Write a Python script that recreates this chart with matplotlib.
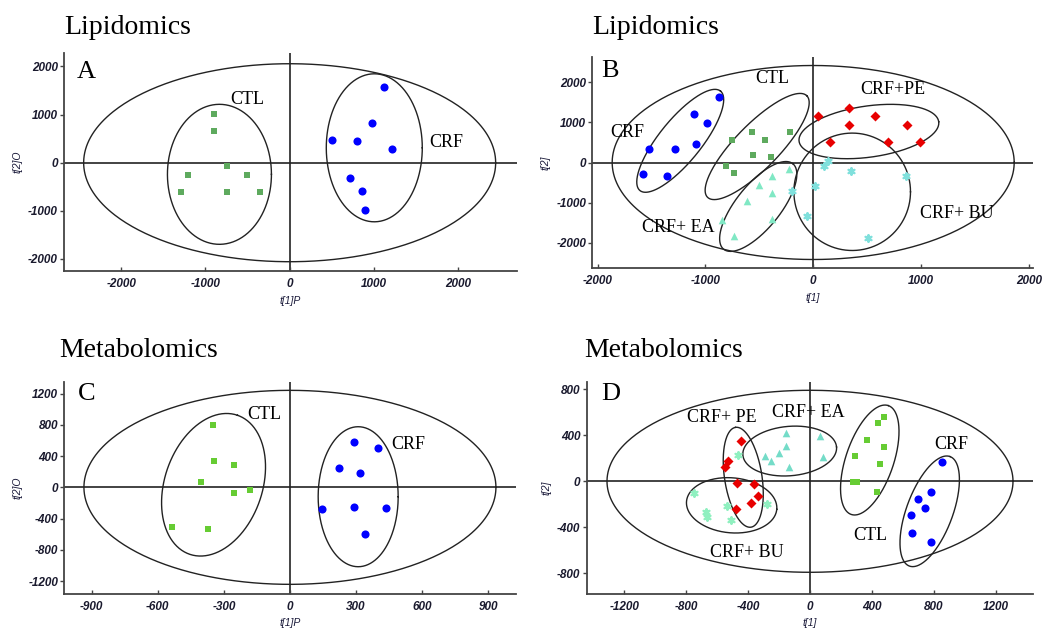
import numpy as np
import matplotlib
matplotlib.use("Agg")
import matplotlib.pyplot as plt

plt.rcParams['axes.unicode_minus'] = False

# ---------------- data ----------------
# Panel A (Lipidomics, OPLS: t[1]P vs t[2]O)
a_ctl_x = [-898, -898, -748, -1211, -510, -1294, -748, -356]
a_ctl_y = [1019, 659, -69, -249, -249, -616, -616, -616]
a_crf_x = [1116, 973, 502, 799, 1211, 716, 855, 895]
a_crf_y = [1567, 832, 472, 445, 291, -324, -588, -977]

# Panel B (Lipidomics, PCA: t[1] vs t[2])
b_crf_x = [-872, -1110, -987, -1092, -1522, -1287, -1581, -1361]
b_crf_y = [1630, 1206, 982, 458, 341, 341, -290, -340]
b_ctl_x = [-572, -213, -752, -451, -557, -390, -810, -733]
b_ctl_y = [773, 773, 566, 566, 185, 135, -75, -257]
b_pe_x = [41, 334, 575, 334, 872, 158, 690, 990]
b_pe_y = [1157, 1372, 1157, 940, 940, 509, 509, 509]
b_ea_x = [-223, -381, -501, -381, -618, -850, -381, -733]
b_ea_y = [-157, -340, -556, -763, -963, -1429, -1404, -1845]
b_bu_x = [139, 96, 350, 860, 13, -200, -56, 510]
b_bu_y = [42, -75, -207, -340, -598, -706, -1347, -1878]

# Panel C (Metabolomics, OPLS)
c_ctl_x = [-351, -347, -253, -405, -253, -182, -535, -373]
c_ctl_y = [794, 333, 286, 64, -69, -35, -508, -530]
c_crf_x = [291, 402, 224, 320, 144, 291, 438, 342]
c_crf_y = [576, 503, 251, 183, -282, -248, -261, -594]

# Panel D (Metabolomics, PCA)
d_crf_x = [853, 784, 698, 741, 655, 661, 784]
d_crf_y = [165, -96, -154, -229, -296, -450, -528]
d_ctl_x = [480, 437, 368, 480, 289, 454, 280, 301, 431]
d_ctl_y = [557, 507, 359, 298, 217, 148, -9, -9, -93]
d_ea_x = [-157, 65, -157, -200, -293, 84, -250, -138]
d_ea_y = [417, 397, 307, 243, 220, 214, 174, 124]
d_pe_x = [-446, -532, -547, -472, -360, -338, -383, -478]
d_pe_y = [350, 177, 127, -17, -23, -125, -189, -241]
d_bu_x = [-463, -747, -538, -276, -674, -663, -508]
d_bu_y = [231, -102, -212, -197, -267, -313, -337]

# axis settings
a_xticks = [-2000, -1000, 0, 1000, 2000]
a_yticks = [-2000, -1000, 0, 1000, 2000]
b_xticks = [-2000, -1000, 0, 1000, 2000]
b_yticks = [-2000, -1000, 0, 1000, 2000]
c_xticks = [-900, -600, -300, 0, 300, 600, 900]
c_yticks = [-1200, -800, -400, 0, 400, 800, 1200]
d_xticks = [-1200, -800, -400, 0, 400, 800, 1200]
d_yticks = [-800, -400, 0, 400, 800]

# ---------------- style ----------------
BLUE = '#0000ff'
RED = '#e80000'
GREEN1 = '#5eaa5e'
GREEN2 = '#66cc33'
EA1 = '#80e8c4'
BU1 = '#80e0dc'
EA2 = '#74dcc8'
BU2 = '#90f0c0'
SERIF = ['Liberation Serif', 'DejaVu Serif']
SANS = ['Liberation Sans', 'DejaVu Sans']

fig = plt.figure(figsize=(10.56, 6.29), dpi=100)
W, H = 1056, 629


def make_axes(left, right, top, bottom):
    return fig.add_axes([left / W, 1 - bottom / H, (right - left) / W, (bottom - top) / H])


def style(ax, xlim, ylim, xt, yt, xl, yl):
    ax.set_xlim(*xlim)
    ax.set_ylim(*ylim)
    ax.set_xticks(xt)
    ax.set_yticks(yt)
    for s in ['top', 'right']:
        ax.spines[s].set_visible(False)
    for s in ['left', 'bottom']:
        ax.spines[s].set_color('#444444')
        ax.spines[s].set_linewidth(1.3)
    ax.tick_params(axis='y', direction='out', length=3, width=1, color='#444444', pad=1.5)
    ax.tick_params(axis='x', direction='in', length=3, width=1, color='#444444', pad=5)
    for lab in ax.get_xticklabels() + ax.get_yticklabels():
        lab.set_fontfamily(SANS)
        lab.set_fontweight('bold')
        lab.set_fontstyle('italic')
        lab.set_fontsize(8.5)
        lab.set_color('#1a1a2e')
    ax.set_xlabel(xl, fontsize=7.5, fontstyle='italic', family=SANS, color='#1a1a3a', labelpad=4)
    ax.set_ylabel(yl, fontsize=7.5, fontstyle='italic', family=SANS, color='#1a1a3a', labelpad=4)
    ax.axhline(0, color='#222222', lw=1.2, zorder=1)
    ax.axvline(0, color='#222222', lw=1.2, zorder=1)
    ax.patch.set_alpha(0)


def ellipse(ax, cx, cy, a, b, ang):
    x0, x1 = ax.get_xlim()
    y0, y1 = ax.get_ylim()
    pos = ax.get_position()
    wpx = pos.width * fig.get_figwidth() * fig.dpi
    hpx = pos.height * fig.get_figheight() * fig.dpi
    sx = (x1 - x0) / wpx
    sy = (y1 - y0) / hpx
    t = np.linspace(0, 2 * np.pi, 400)
    th = np.radians(ang)
    u = a * np.cos(t)
    v = b * np.sin(t)
    dx = u * np.cos(th) - v * np.sin(th)
    dy = u * np.sin(th) + v * np.cos(th)
    ax.plot(cx + dx * sx, cy + dy * sy, color='#222222', lw=1.0, zorder=2)


def label(ax, x, y, s, size=13, ha='center', va='center'):
    ax.text(x, y, s, fontsize=size, family=SERIF, ha=ha, va=va, color='black', zorder=5)


def pts(ax, x, y, color, marker, s, lw=0):
    ax.scatter(x, y, c=color, marker=marker, s=s, linewidths=lw, edgecolors=color, zorder=4)


# ---------------- Panel A ----------------
axA = make_axes(64, 517, 53, 271)
style(axA, (-2680, 2700), (-2250, 2280), a_xticks, a_yticks, 't[1]P', 't[2]O')
ellipse(axA, 0, 0, 206, 99, 0)
ellipse(axA, -834, -241, 52, 70, 0)
ellipse(axA, 1005, 310, 48, 74, 0)
pts(axA, a_ctl_x, a_ctl_y, GREEN1, 's', 22)
pts(axA, a_crf_x, a_crf_y, BLUE, 'o', 34)
label(axA, -2532, 1755, 'A', size=19, ha='left', va='baseline')
label(axA, -499, 1324, 'CTL')
label(axA, 1864, 410, 'CRF')

# ---------------- Panel B ----------------
axB = make_axes(592.3, 1033, 56.7, 268.3)
style(axB, (-2050, 2040), (-2640, 2640), b_xticks, b_yticks, 't[1]', 't[2]')
ellipse(axB, 0, 0, 201, 97, 0)
ellipse(axB, -1234, 541, 64, 21, 51)
ellipse(axB, -520, 399, 71, 22, 45.7)
ellipse(axB, -510, -1097, 55, 22, 51)
ellipse(axB, 517, 773, 70.5, 25.6, 8)
ellipse(axB, 362, -731, 58.3, 58.7, 0)
pts(axB, b_crf_x, b_crf_y, BLUE, 'o', 34)
pts(axB, b_ctl_x, b_ctl_y, GREEN1, 's', 22)
pts(axB, b_pe_x, b_pe_y, RED, 'D', 26)
pts(axB, b_ea_x, b_ea_y, EA1, '^', 30)
pts(axB, b_bu_x, b_bu_y, BU1, (6, 2, 0), 22, lw=1.6)
label(axB, -1964, 2130, 'B', size=19, ha='left', va='baseline')
label(axB, -377, 2105, 'CTL')
label(axB, 742, 1830, 'CRF+PE')
label(axB, -1726, 758, 'CRF')
label(axB, -1253, -1621, 'CRF+ EA')
label(axB, 1331, -1262, 'CRF+ BU')

# ---------------- Panel C ----------------
axC = make_axes(64.3, 516, 381.7, 594)
style(axC, (-1025, 1027), (-1365, 1352), c_xticks, c_yticks, 't[1]P', 't[2]O')
ellipse(axC, 0, 0, 206, 97, 0)
ellipse(axC, -347, 33, 73.5, 48.8, 71)
ellipse(axC, 310, -120, 40, 70, 0)
pts(axC, c_ctl_x, c_ctl_y, GREEN2, 's', 22)
pts(axC, c_crf_x, c_crf_y, BLUE, 'o', 34)
label(axC, -962, 1118, 'C', size=19, ha='left', va='baseline')
label(axC, -117, 926, 'CTL')
label(axC, 538, 554, 'CRF')

# ---------------- Panel D ----------------
axD = make_axes(586.7, 1033.3, 381.7, 594)
style(axD, (-1442, 1442), (-980, 866), d_xticks, d_yticks, 't[1]', 't[2]')
ellipse(axD, 0, 0, 203, 91, 0)
ellipse(axD, -431, 35, 50.5, 18.7, 98.8)
ellipse(axD, -131, 263, 47, 24.7, 5)
ellipse(axD, -506, -209, 45.3, 27.5, -5)
ellipse(axD, 386, 185, 57.5, 23.9, 71.2)
ellipse(axD, 773, -261, 58.4, 23.1, 69.6)
pts(axD, d_crf_x, d_crf_y, BLUE, 'o', 34)
pts(axD, d_ctl_x, d_ctl_y, GREEN2, 's', 22)
pts(axD, d_ea_x, d_ea_y, EA2, '^', 30)
pts(axD, d_bu_x, d_bu_y, BU2, (6, 2, 0), 22, lw=1.6)
pts(axD, d_pe_x, d_pe_y, RED, 'D', 26)
label(axD, -1346, 707, 'D', size=19, ha='left', va='baseline')
label(axD, -570, 553, 'CRF+ PE')
label(axD, -11, 600, 'CRF+ EA')
label(axD, 388, -467, 'CTL')
label(axD, 915, 316, 'CRF')
label(axD, -409, -617, 'CRF+ BU')

# ---------------- titles ----------------
fig.text(64 / W, 1 - 34.5 / H, 'Lipidomics', fontsize=20, family=SERIF, ha='left', va='baseline')
fig.text(592.7 / W, 1 - 34.5 / H, 'Lipidomics', fontsize=20, family=SERIF, ha='left', va='baseline')
fig.text(59 / W, 1 - 357.3 / H, 'Metabolomics', fontsize=20, family=SERIF, ha='left', va='baseline')
fig.text(584 / W, 1 - 357.3 / H, 'Metabolomics', fontsize=20, family=SERIF, ha='left', va='baseline')

fig.savefig('out.png', dpi=100)
